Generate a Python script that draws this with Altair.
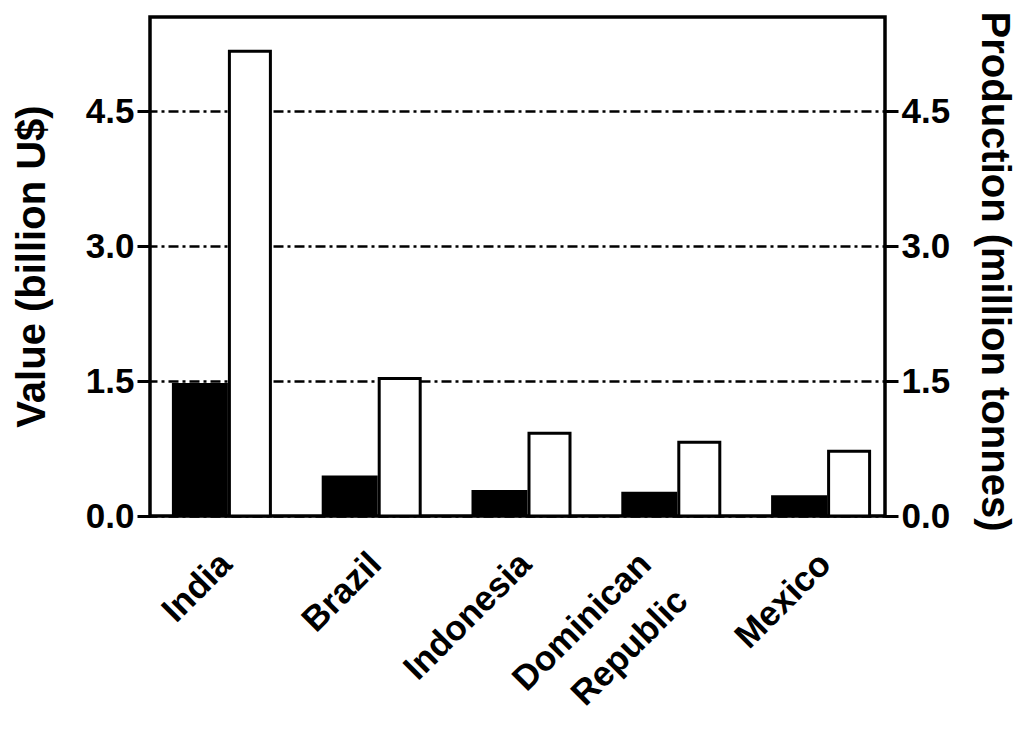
import altair as alt
import pandas as pd

countries = ["India", "Brazil", "Indonesia", "Dominican Republic", "Mexico"]
value_busd = [1.48, 0.45, 0.29, 0.27, 0.23]
production_mt = [5.17, 1.53, 0.92, 0.82, 0.72]
y_ticks = [0, 1.5, 3.0, 4.5]

df = pd.DataFrame({"country": countries, "value": value_busd, "production": production_mt})

FONT = "Liberation Sans"
ydomain = [0, 5.55]

xenc = alt.X(
    "country:N",
    sort=countries,
    scale=alt.Scale(range=[-3, 746], paddingInner=0, paddingOuter=0),
    axis=alt.Axis(
        title=None, ticks=False, domain=False, labelAngle=-45,
        labelFontSize=35, labelFont=FONT, labelFontWeight="bold", labelColor="black",
        labelPadding=30, labelLineHeight=52,
        labelOffset={"condition": {"test": "datum.value == 'Dominican Republic'", "value": -38}, "value": -8},
        labelExpr="datum.label == 'Dominican Republic' ? ['Dominican', 'Republic\u00a0\u00a0'] : datum.label",
    ),
)

common = dict(
    values=y_ticks, format=".1f",
    labelFontSize=35, labelFont=FONT, labelFontWeight="bold", labelColor="black", labelPadding=3,
    tickSize=13, tickWidth=3, tickColor="black", domain=False,
    titleFontSize=40, titleFont=FONT, titleFontWeight="bold", titleColor="black",
    titleAlign="center", titleBaseline="middle",
)

left_axis = alt.Axis(
    orient="left", title="Value (billion U$)",
    grid=True, gridColor="black", gridWidth=2.5, gridDash=[10, 4, 3, 4],
    titleX=-118, titleY=249, titleAngle=-90, **common,
)
right_axis = alt.Axis(
    orient="right", title="Production (million tonnes)", grid=False,
    titleX=108, titleY=254, titleAngle=90, **common,
)

black = alt.Chart(df).mark_bar(color="black", size=56, xOffset=-22).encode(
    x=xenc,
    y=alt.Y("value:Q", scale=alt.Scale(domain=ydomain, nice=False, zero=True), axis=left_axis),
)
white = alt.Chart(df).mark_bar(fill="white", stroke="black", strokeWidth=3, size=41, xOffset=28).encode(
    x=xenc,
    y=alt.Y("production:Q", scale=alt.Scale(domain=ydomain, nice=False, zero=True), axis=right_axis),
)

chart = (
    alt.layer(black, white)
    .resolve_scale(y="independent")
    .properties(
        width=735, height=499,
        autosize=alt.AutoSizeParams(type="none"),
        padding={"left": 142, "top": 9, "right": 131, "bottom": 207},
        background="white",
    )
    .configure_view(stroke="black", strokeWidth=3.5)
)

chart.save("out.html", embed_options={"renderer": "svg", "actions": False})
